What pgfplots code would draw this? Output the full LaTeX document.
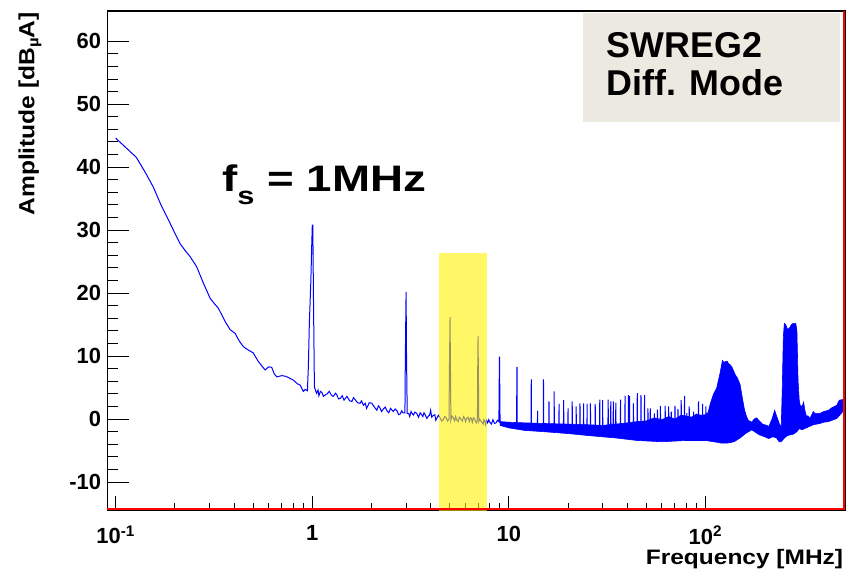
\documentclass[border=0pt]{standalone}
\usepackage{pgfplots}
\pgfplotsset{compat=1.18}
\usepackage{pgfplotstable}
\usepackage{fontspec}
\setmainfont{Liberation Sans}
\definecolor{boxbeige}{RGB}{236,233,224}
\definecolor{specblue}{RGB}{0,0,255}

\pgfplotstableread{
f y
0.1 44.6
0.11 43.4
0.12 42.3
0.127 41.6
0.14 39.4
0.155 36.9
0.17 34.0
0.189 31.1
0.2 29.5
0.212 27.9
0.225 26.8
0.239 25.8
0.258 24.2
0.28 21.5
0.302 19.2
0.318 18.3
0.333 17.6
0.36 15.5
0.382 14.2
0.405 13.6
0.425 12.4
0.446 11.5
0.47 11.0
0.501 10.5
0.53 9.2
0.575 7.8
0.6 8.3
0.622 8.2
0.64 7.2
0.66 6.7
0.7 6.9
0.73 6.8
0.756 6.6
0.8 6.2
0.84 5.6
0.867 5.4
0.90 4.4
0.92 4.7
0.944 4.5
0.955 8.3
0.966 15.2
0.983 21.8
0.994 27.9
1.0 30.8
1.006 30.8
1.015 17.6
1.025 5.1
1.05 4.1
1.07 4.6
1.08 3.7
1.1 4.4
1.12 4.2
1.14 3.6
1.16 3.8
1.19 4.0
1.22 4.4
1.25 3.8
1.28 3.6
1.31 4.1
1.33 3.9
1.36 3.2
1.39 3.3
1.42 3.7
1.45 3.0
1.5 3.6
1.55 2.9
1.59 2.8
1.62 3.4
1.65 3.1
1.7 2.6
1.75 2.5
1.78 2.9
1.82 2.2
1.86 2.5
1.89 1.7
1.95 2.6
2.01 2.5
2.07 1.9
2.13 1.4
2.17 2.1
2.2 1.9
2.25 1.2
2.3 1.6
2.35 1.9
2.4 1.3
2.45 1.0
2.5 1.7
2.58 1.2
2.64 1.6
2.7 1.3
2.75 0.7
2.8 0.8
2.85 1.3
2.89 1.0
2.96 1.0
2.975 10.2
3.0 20.2
3.015 10.2
3.04 0.9
3.09 0.9
3.13 0.4
3.18 1.2
3.22 0.9
3.27 0.65
3.33 1.1
3.4 0.9
3.47 0.3
3.54 1.0
3.6 0.7
3.65 0.4
3.7 1.0
3.75 0.7
3.83 0.1
3.9 0.5
3.95 0.6
4.0 1.4
4.05 0.3
4.1 0.5
4.2 0.7
4.25 -0.2
4.3 0.1
4.38 0.6
4.45 0.3
4.55 -0.3
4.64 -0.1
4.72 0.4
4.8 0.2
4.88 -0.3
4.96 0.0
4.985 8.1
5.02 16.2
5.045 8.0
5.07 -0.2
5.13 0.5
5.2 0.3
5.3 -0.3
5.36 0.4
5.43 -0.1
5.52 -0.4
5.6 0.3
5.7 0.0
5.8 -0.3
5.88 0.4
5.95 0.2
6.02 -0.4
6.1 0.1
6.2 0.3
6.3 -0.4
6.38 0.2
6.45 0.1
6.52 -0.5
6.6 0.2
6.68 0.1
6.75 -0.3
6.85 -0.6
6.92 -0.2
6.94 7.5
6.97 13.2
7.0 7.0
7.03 -0.4
7.1 0.0
7.2 -0.3
7.3 -0.5
7.4 -0.8
7.47 -0.1
7.55 -0.3
7.62 -0.9
7.7 -0.2
7.8 -0.6
7.9 -0.1
8.0 -0.5
8.15 -0.8
8.3 -0.1
8.45 -0.7
8.6 -0.6
8.75 -0.2
8.9 -0.4
8.925 5.1
8.96 9.9
8.99 5.0
9.02 -0.6
9.5 -0.8
10.2 -0.9
10.95 -1.0
10.98 7.5
11.0 8.3
11.03 -1.0
12.0 -1.1
12.97 -1.2
13.0 6.3
13.03 -1.2
13.97 -1.2
14.0 1.3
14.03 -1.2
14.96 -1.3
15.0 6.3
15.04 -1.3
15.96 -1.5
16.0 2.8
16.04 -1.5
16.96 -1.5
17.0 4.4
17.04 -1.5
17.96 -1.5
18.0 2.4
18.04 -1.5
18.95 -1.5
19.0 3.0
19.05 -1.5
19.95 -1.5
20.0 1.7
20.05 -1.5
20.95 -1.5
21.0 2.8
21.05 -1.5
21.95 -1.5
22.0 2.0
22.05 -1.5
22.95 -1.5
23.0 2.5
23.05 -1.5
23.95 -1.5
24.0 2.5
24.05 -1.5
24.95 -1.5
25.0 2.4
25.05 -1.5
25.95 -1.5
26.0 2.5
26.05 -1.5
27.45 -1.5
27.5 2.4
27.55 -1.5
28.95 -1.5
29.0 3.1
29.05 -1.5
29.95 -1.5
30.0 3.0
30.05 -1.5
31.9 -1.5
32.0 3.1
32.1 -1.5
32.9 -1.5
33.0 2.8
33.1 -1.5
33.9 -1.5
34.0 2.8
34.1 -1.5
34.9 -1.5
35.0 2.6
35.1 -1.5
36.9 -1.5
37.0 3.1
37.1 -1.5
38.9 -1.5
39.0 3.7
39.1 -1.5
40.5 -1.5
40.6 3.8
40.7 -1.5
41.0 -1.5
41.1 3.7
41.2 -1.5
42.9 -1.5
43.0 2.5
43.1 -1.5
44.9 -1.5
45.0 4.1
45.1 -1.5
46.9 -1.5
47.0 3.8
47.1 -1.5
48.9 -1.5
49.0 3.8
49.1 -1.5
50.9 -1.5
51.0 1.7
51.1 -1.5
52.3 -1.5
52.4 1.7
52.5 -1.5
54.9 -1.5
55.0 0.9
55.1 -1.5
56.8 -1.5
57.0 1.5
57.2 -1.5
58.8 -1.5
59.0 2.1
59.2 -1.5
62.2 -1.5
62.4 2.1
62.6 -1.5
64.8 -1.5
65.0 2.0
65.2 -1.5
66.8 -1.5
67.0 1.2
67.2 -1.5
69.8 -1.5
70.0 2.1
70.2 -1.5
72.3 -1.5
72.5 1.6
72.7 -1.5
75.1 -1.5
75.3 3.0
75.5 -1.5
78.1 -1.5
78.3 3.7
78.5 -1.5
80.3 -1.5
80.5 1.0
80.7 -1.5
82.5 -1.5
82.7 2.0
82.9 -1.5
86.8 -1.5
87.0 1.2
87.2 -1.5
92.0 -1.5
92.2 2.8
92.4 -1.5
96.5 -1.5
96.7 2.4
96.9 -1.5
100.4 -1.5
100.6 2.0
100.8 -1.5
102 -1.5
}\spectable

\pgfplotstableread{
f y
9 -0.4
10 -0.5
12 -0.6
15 -0.7
20 -0.8
25 -0.9
30 -1.0
35 -0.8
40 -0.6
45 -0.4
50 -0.3
55 0.2
60 -0.1
65 0.4
70 0.0
75 0.6
80 0.5
85 0.3
90 0.8
95 0.6
100 0.7
103 1.0
106 2.5
110 4.0
114 4.9
118.7 7.3
122 9.3
124 9.0
126 9.1
129 9.2
131 8.8
133 8.7
136 8.3
138 7.9
142 7.0
145 6.6
150 5.5
155 2.9
158 1.5
161 0.6
165 -0.2
172 -0.5
177 0.0
182 0.2
188 -0.3
195 -0.8
205 -1.0
210 -1.2
218 0.0
225 1.4
230 0.5
238 -0.8
243 -1.2
246 5.0
249 13.0
252 15.2
256 15.0
262 14.2
268 14.5
274 15.0
280 15.2
288 15.2
292 14.0
296 6.0
300 3.0
303 2.2
310 2.0
316 2.7
320 1.5
326 0.5
333 0.5
340 0.1
354 1.2
360 0.9
383 0.9
400 1.2
423 1.4
440 1.8
466 2.2
480 3.0
500 3.1
500 1.2
466 0.1
440 -0.2
423 -0.4
400 -0.5
383 -0.7
354 -0.9
326 -1.4
310 -1.7
300 -1.5
292 -2.0
280 -2.4
262 -2.6
252 -3.0
243 -3.6
237 -3.6
230 -3.0
220 -2.8
210 -3.1
200 -2.8
188 -2.5
172 -1.7
160 -2.3
150 -3.0
140 -3.6
130 -3.8
120 -3.8
110 -3.6
100 -3.4
80 -3.4
60 -3.6
45 -3.4
35 -3.0
25 -2.6
20 -2.3
15 -2.0
12 -1.8
10 -1.4
9 -1.0
}\bandtable

\begin{document}
\begin{tikzpicture}
\useasboundingbox (-107.3bp,-60.3bp) rectangle (750.7bp,510.7bp);
\begin{axis}[
  scale only axis, width=738.4bp, height=499.7bp,
  at={(0bp,0bp)}, anchor=south west,
  xmode=log, xmin=0.0906, xmax=517, ymin=-14.55, ymax=64.8,
  tick align=inside,
  tick style={black, line width=1bp},
  ticklabel style={font=\fontsize{22}{22}\selectfont\bfseries},
  axis line style={black, line width=1.2bp},
  xtick={0.1,1,10,100},
  xticklabels={10\textsuperscript{-1},1,10,10\textsuperscript{2}},
  xtick pos=bottom,
  major tick length=15bp, minor tick length=7.5bp,
  xticklabel style={inner sep=0pt, yshift=-15bp},
  ytick=\empty,
]
\addplot[specblue, line width=1bp] table[x=f, y=y] {\spectable};
\addplot[specblue, fill=specblue, line width=0.6bp] table[x=f, y=y] {\bandtable};
\fill[yellow, opacity=0.6] (axis cs:4.42,-20) rectangle (axis cs:7.75,26.3);
\end{axis}
\begin{axis}[
  scale only axis, width=738.4bp, height=499.7bp,
  at={(0bp,0bp)}, anchor=south west,
  xmin=0, xmax=1, ymin=-14.55, ymax=64.8,
  tick align=inside,
  tick style={black, line width=1bp},
  ticklabel style={font=\fontsize{22}{22}\selectfont\bfseries},
  axis line style={draw=none},
  xtick=\empty,
  ytick={-10,0,10,20,30,40,50,60},
  yticklabels={-10,0,10,20,30,40,50,60},
  minor y tick num=4,
  ytick pos=left,
  major tick length=22bp, minor tick length=11bp,
  yticklabel style={inner sep=0pt, xshift=-6bp},
]
\end{axis}
\draw[red, line width=2bp] (0bp,1.4bp) -- (736.8bp,1.4bp) -- (736.8bp,499.7bp);
\fill[boxbeige] (476bp,389bp) rectangle (732.7bp,498bp);
\node[anchor=base west, inner sep=0pt, font=\fontsize{36}{36}\selectfont\bfseries] at (499.4bp,453bp) {SWREG2};
\node[anchor=base west, inner sep=0pt, font=\fontsize{36}{36}\selectfont\bfseries] at (499.4bp,415.2bp) {Diff. Mode};
\node[anchor=base west, inner sep=0pt, font=\fontsize{37}{37}\selectfont\bfseries] at (114.7bp,319bp) {\scalebox{1.24}[1]{f\raisebox{-13bp}{\fontsize{25}{25}\selectfont s}\ = 1MHz}};
\node[rotate=90, anchor=east, inner sep=0pt, font=\fontsize{22}{22}\selectfont\bfseries] at (-77.3bp,498.7bp) {\scalebox{1.12}[1]{Amplitude [dB\raisebox{-4bp}{\fontsize{15}{15}\selectfont µ}A]}};
\node[anchor=base east, inner sep=0pt, font=\fontsize{21}{21}\selectfont\bfseries] at (736bp,-53.3bp) {\scalebox{1.17}[1]{Frequency [MHz]}};
\end{tikzpicture}
\end{document}
